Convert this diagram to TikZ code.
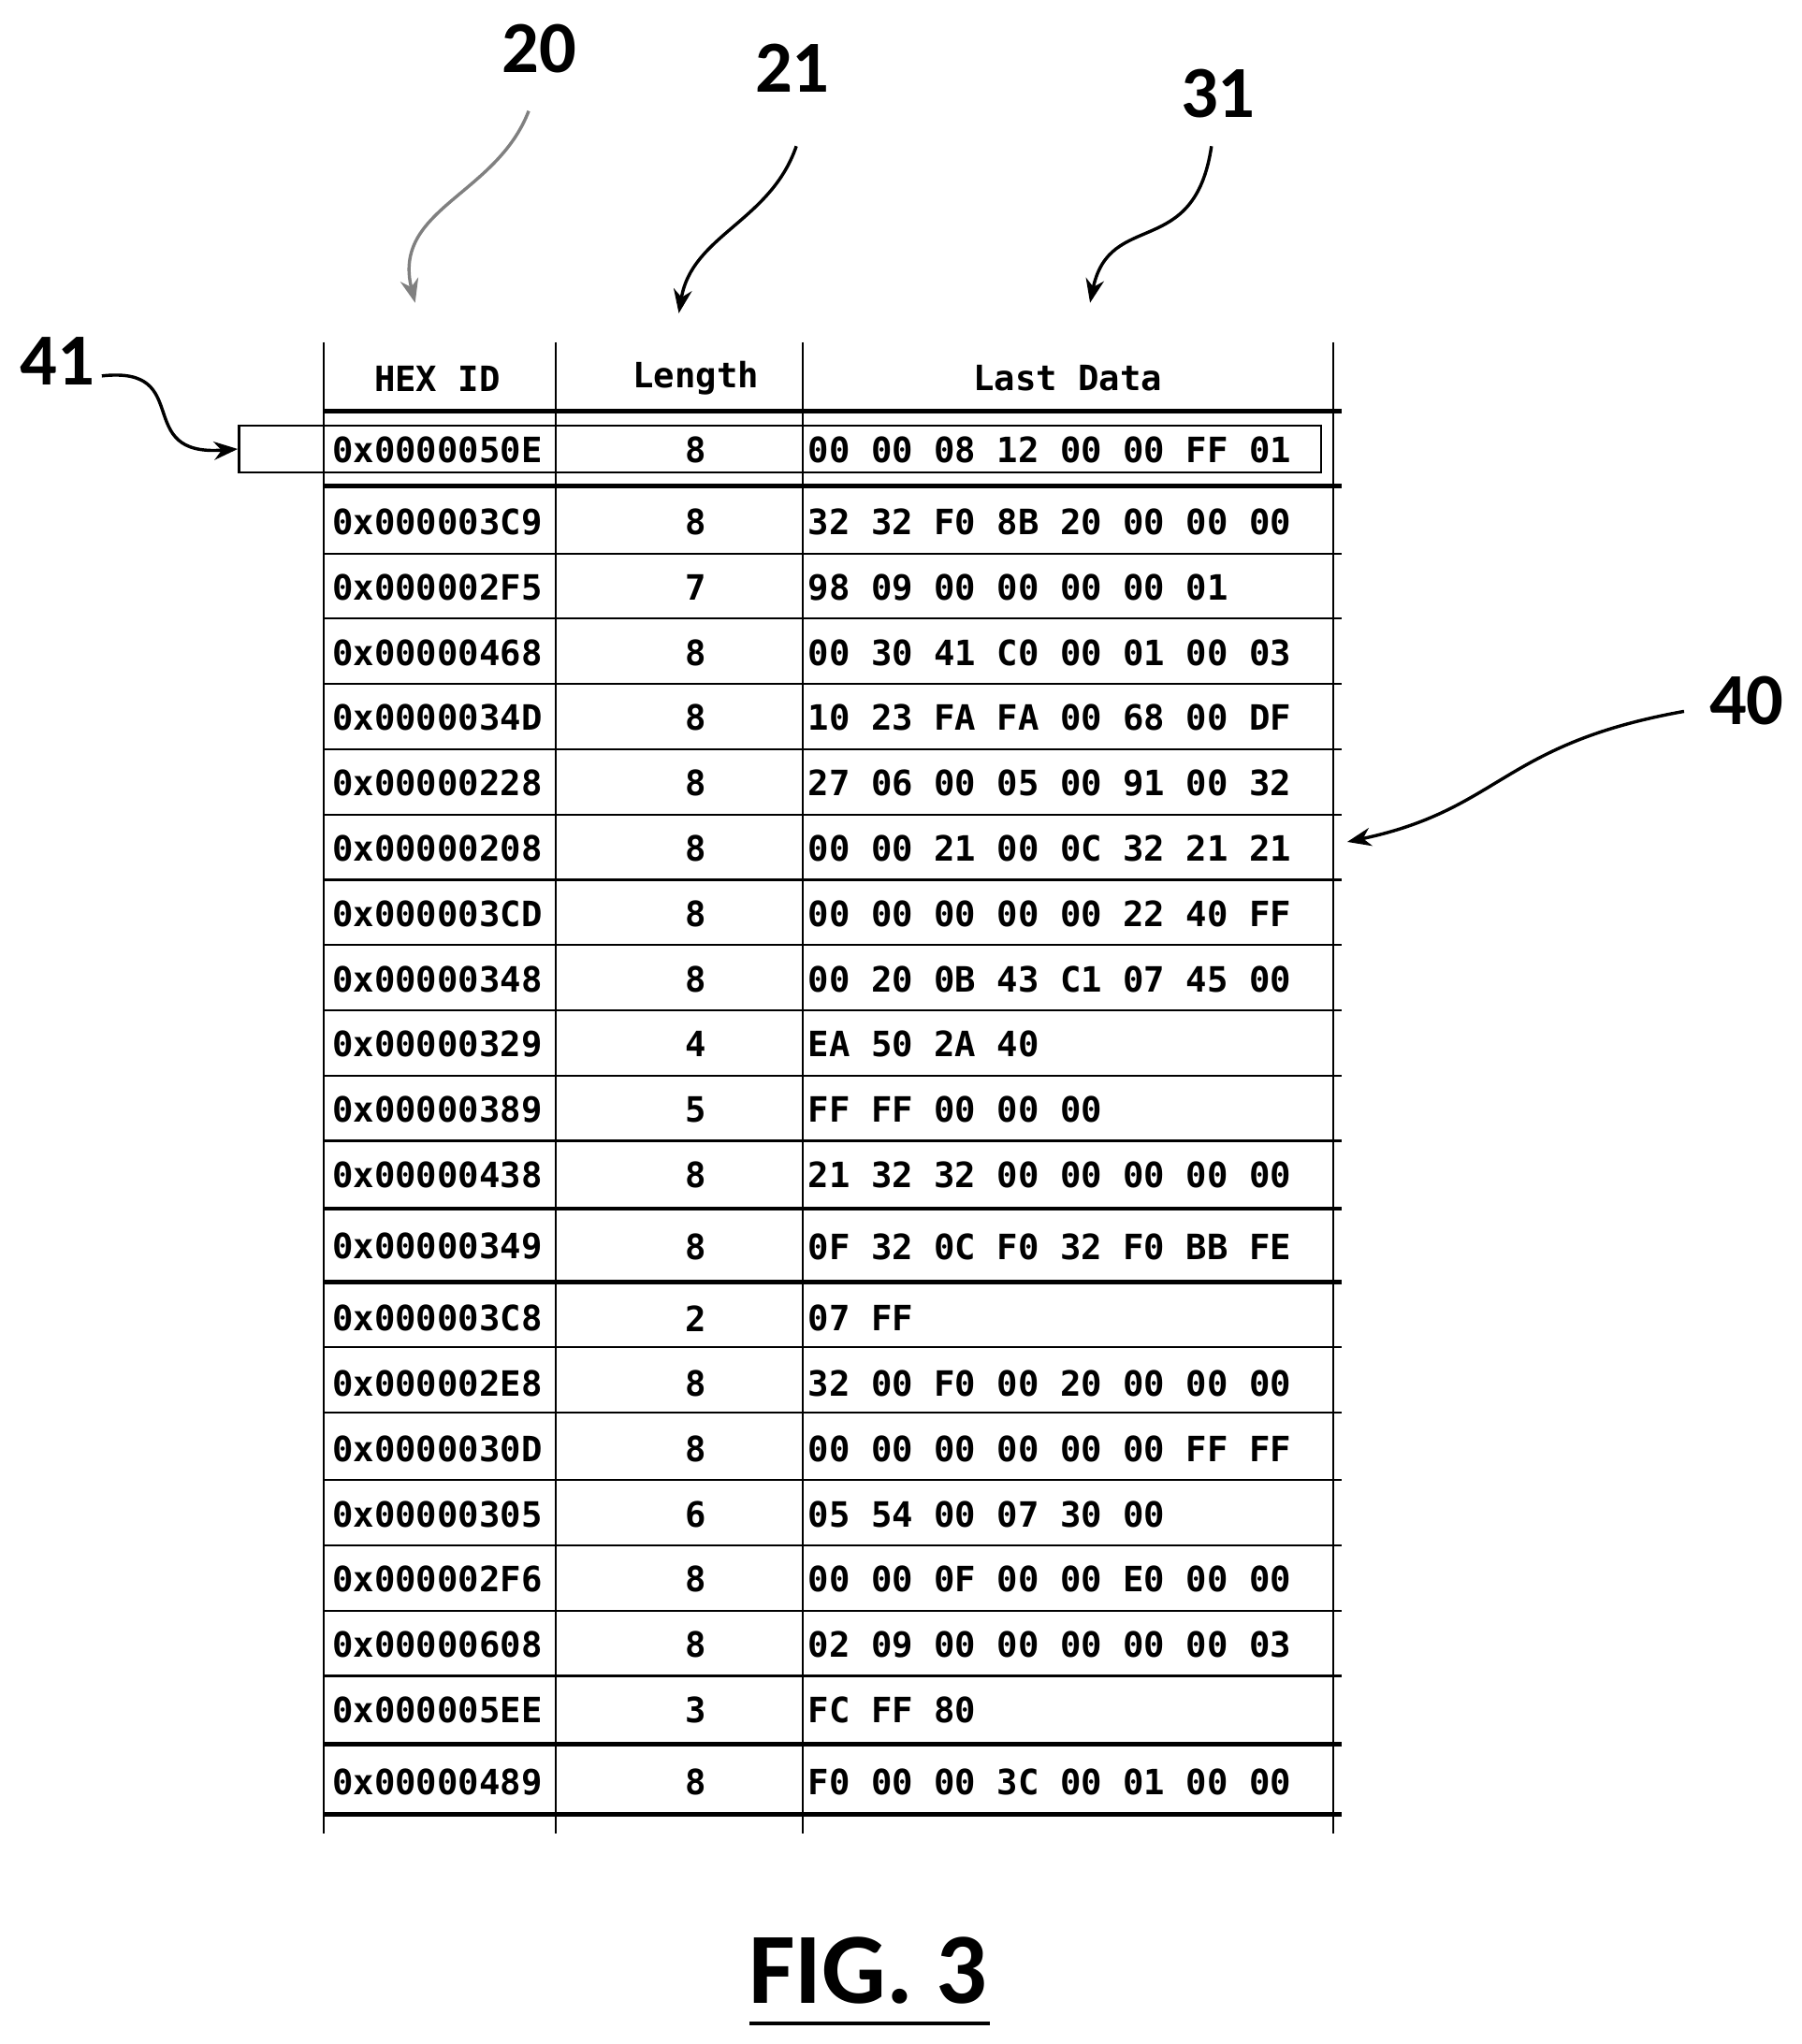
\documentclass[tikz,border=0pt]{standalone}
\usepackage{fontspec}
\usetikzlibrary{arrows.meta}
\setmainfont{Carlito}
\newfontfamily\mono{DejaVu Sans Mono}
\begin{document}
\begin{tikzpicture}[x=0.05cm,y=-0.05cm,
  cell/.style={font=\mono\bfseries\fontsize{38}{40}\selectfont,inner sep=0pt},
  lab/.style={font=\bfseries\fontsize{80}{84}\selectfont,inner sep=0pt},
  thin/.style={line width=2.2pt},
  thick/.style={line width=5pt},
  arr/.style={line width=3.5pt,-{Stealth[length=26pt,width=20pt]}}]
\useasboundingbox (0,0) rectangle (1380,1566);
% vertical lines
\foreach \x in {248,426,615,1021} \draw[thin] (\x,262) -- (\x,1405);
% horizontal
\foreach \y in {424,474,524,574,624,674,724,774,824,874,1032,1082,1134,1184,1234,1284}
  \draw[thin] (248,\y) -- (1028,\y);
\foreach \y in {315,372,926,982,1336,1390}
  \draw[thick] (248,\y) -- (1028,\y);
% headers
\node[cell] (h1) at (335,290) {HEX ID};
\node[cell] (h2) at (533,290) {Length};
\node[cell] (h3) at (818,290) {Last Data};
\def\rows{345/0x0000050E/8/00 00 08 12 00 00 FF 01,
400/0x000003C9/8/32 32 F0 8B 20 00 00 00,
450/0x000002F5/7/98 09 00 00 00 00 01,
500/0x00000468/8/00 30 41 C0 00 01 00 03,
550/0x0000034D/8/10 23 FA FA 00 68 00 DF,
600/0x00000228/8/27 06 00 05 00 91 00 32,
650/0x00000208/8/00 00 21 00 0C 32 21 21,
700/0x000003CD/8/00 00 00 00 00 22 40 FF,
750/0x00000348/8/00 20 0B 43 C1 07 45 00,
800/0x00000329/4/EA 50 2A 40,
850/0x00000389/5/FF FF 00 00 00,
900/0x00000438/8/21 32 32 00 00 00 00 00,
955/0x00000349/8/0F 32 0C F0 32 F0 BB FE,
1010/0x000003C8/2/07 FF,
1060/0x000002E8/8/32 00 F0 00 20 00 00 00,
1110/0x0000030D/8/00 00 00 00 00 00 FF FF,
1160/0x00000305/6/05 54 00 07 30 00,
1210/0x000002F6/8/00 00 0F 00 00 E0 00 00,
1260/0x00000608/8/02 09 00 00 00 00 00 03,
1310/0x000005EE/3/FC FF 80,
1365/0x00000489/8/F0 00 00 3C 00 01 00 00}
\foreach \y/\id/\l/\d [count=\i] in \rows {
  \node[cell] (id\i) at (335,\y) {\id};
  \node[cell] (len\i) at (533,\y) {\l};
  \node[cell,anchor=west] (dat\i) at (619,\y) {\d};
}
\node[draw,line width=2.5pt,minimum width=829*0.05cm,minimum height=36*0.05cm,inner sep=0pt] (box) at (597.5,344) {};
% labels
\node[lab] (l20) at (413,37) {20};
\node[lab] (l21) at (607,52) {21};
\node[lab] (l31) at (933,72) {31};
\node[lab] (l41) at (44,277) {41};
\node[lab] (l40) at (1338,537) {40};
\coordinate (t20) at (318,232);
\coordinate (t21) at (520,240);
\coordinate (t31) at (835,232);
\coordinate (t40) at (1032,645);
\draw[arr,gray] (405,85) .. controls (380,150) and (300,160) .. (t20);
\draw[arr] (610,112) .. controls (590,170) and (530,180) .. (t21);
\draw[arr] (928,112) .. controls (915,200) and (850,160) .. (t31);
\draw[arr] (78,288) .. controls (150,280) and (100,350) .. (box.west);
\draw[arr] (1290,545) .. controls (1150,570) and (1150,620) .. (t40);
\node[font=\bfseries\fontsize{110}{114}\selectfont,inner sep=0pt] (fig) at (665,1510) {FIG. 3};
\draw[line width=4pt] (574,1550) -- (758,1550);
\end{tikzpicture}
\end{document}
